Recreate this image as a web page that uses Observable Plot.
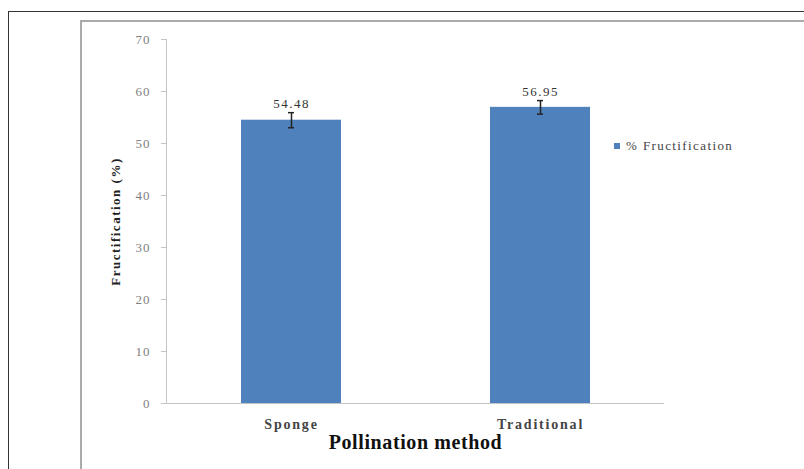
<!DOCTYPE html>
<html>
<head>
<meta charset="utf-8">
<script src="https://cdn.jsdelivr.net/npm/d3@7"></script>
<script src="https://cdn.jsdelivr.net/npm/@observablehq/plot@0.6"></script>
<style>
  html, body { margin: 0; padding: 0; background: #fff; }
  #wrap { position: relative; width: 804px; height: 469px; overflow: hidden; background: #fff; }
  #outer { position: absolute; left: 8px; top: 11px; width: 900px; height: 600px; border: 1.5px solid #333; box-sizing: border-box; }
  #inner { position: absolute; left: 80px; top: 20px; width: 900px; height: 600px; border: 2px solid #aaa; box-sizing: border-box; }
  #chart { position: absolute; left: 0; top: 0; }
  #legend { position: absolute; left: 614px; top: 138px; font-family: "Liberation Serif", serif; font-size: 13px; letter-spacing: 1.4px; color: #444; display: flex; align-items: center; gap: 6px; }
  #legend .sw { width: 6px; height: 6px; background: #4f81bd; display: inline-block; }
  #chart g[aria-label="x-axis tick label"] text { letter-spacing: 1.8px; }
  #chart g[aria-label="y-axis tick label"] text { letter-spacing: 1px; }
</style>
</head>
<body>
<div id="wrap">
  <div id="outer"></div>
  <div id="inner"></div>
  <div id="chart"></div>
  <div id="legend"><span class="sw"></span><span>% Fructification</span></div>
</div>
<script>
const methods = ["Sponge", "Traditional"];
const fructification = [54.48, 56.95];
const errors = [1.45, 1.3];
const yTicks = [0, 10, 20, 30, 40, 50, 60, 70];
const yLabel = "Fructification (%)";
const xLabel = "Pollination method";

const data = methods.map((m, i) => ({method: m, value: fructification[i], err: errors[i]}));

const chart = Plot.plot({
  width: 804,
  height: 469,
  marginLeft: 166,
  marginRight: 140,
  marginTop: 39,
  marginBottom: 66,
  style: {fontFamily: "'Liberation Serif', serif", background: "transparent"},
  x: {domain: methods, paddingInner: 0.6, paddingOuter: 0.3},
  y: {domain: [0, 70]},
  marks: [
    Plot.barY(data, {x: "method", y: "value", fill: "#4f81bd"}),
    Plot.ruleY([0], {stroke: "#c4c4c4", strokeWidth: 1}),
    Plot.frame({anchor: "left", stroke: "#c4c4c4"}),
    Plot.axisY({ticks: yTicks, tickSize: 5, tickPadding: 11, stroke: "#c4c4c4", color: "#808080", fontSize: 13, label: null}),
    Plot.axisX({tickSize: 0, tickPadding: 16, fontSize: 14, fontWeight: "bold", color: "#444", label: null}),
    Plot.ruleX(data, {x: "method", y1: d => d.value - d.err, y2: d => d.value + d.err, stroke: "#222", strokeWidth: 1.5}),
    Plot.tickY(data, {x: "method", y: d => d.value - d.err, stroke: "#222", strokeWidth: 1.5, insetLeft: 47, insetRight: 47}),
    Plot.tickY(data, {x: "method", y: d => d.value + d.err, stroke: "#222", strokeWidth: 1.5, insetLeft: 47, insetRight: 47}),
    Plot.text(data, {x: "method", y: d => d.value + d.err, text: d => d.value.toFixed(2), dy: -9, fontSize: 13, fill: "#333"}),
    Plot.text([yLabel], {frameAnchor: "left", textAnchor: "middle", rotate: -90, dx: -51, fontSize: 13, fontWeight: "bold", fill: "#222"}),
    Plot.text([xLabel], {frameAnchor: "bottom", textAnchor: "middle", dy: 45, fontSize: 20, fontWeight: "bold", fill: "#111"})
  ]
});
const svg = d3.select(chart);
const barLabels = new Set(fructification.map(v => v.toFixed(2)));
svg.selectAll("text").each(function () {
  const t = this.textContent;
  if (barLabels.has(t)) d3.select(this).style("letter-spacing", "1.5px");
  else if (t === yLabel) d3.select(this).style("letter-spacing", "1.5px");
  else if (t === xLabel) d3.select(this).style("letter-spacing", "0.6px");
});
document.getElementById("chart").appendChild(chart);
</script>
</body>
</html>
